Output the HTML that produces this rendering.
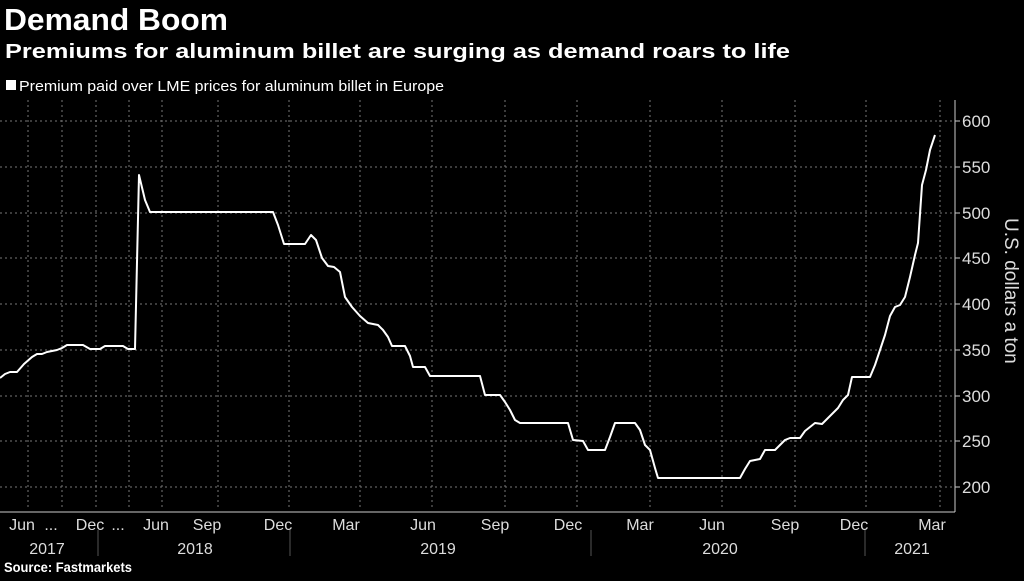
<!DOCTYPE html>
<html><head><meta charset="utf-8"><style>
body{margin:0;background:#000;width:1024px;height:576px;overflow:hidden;font-family:"Liberation Sans",sans-serif;color:#fff}
</style></head><body>
<svg width="1024" height="576" xmlns="http://www.w3.org/2000/svg" font-family="Liberation Sans, sans-serif">
<rect width="1024" height="576" fill="#000"/>
<text x="4" y="30" font-size="31" font-weight="bold" fill="#fff" textLength="224" lengthAdjust="spacingAndGlyphs">Demand Boom</text>
<text x="5" y="58" font-size="20" font-weight="bold" fill="#fff" textLength="785" lengthAdjust="spacingAndGlyphs">Premiums for aluminum billet are surging as demand roars to life</text>
<rect x="6" y="80" width="10" height="10" fill="#fff"/>
<text x="19" y="91" font-size="15" fill="#fff" textLength="425" lengthAdjust="spacingAndGlyphs">Premium paid over LME prices for aluminum billet in Europe</text>
<g stroke="#777" stroke-width="1" stroke-dasharray="2,3">
<line x1="0" y1="121" x2="955" y2="121"/><line x1="0" y1="167" x2="955" y2="167"/><line x1="0" y1="213" x2="955" y2="213"/><line x1="0" y1="258" x2="955" y2="258"/><line x1="0" y1="304" x2="955" y2="304"/><line x1="0" y1="350" x2="955" y2="350"/><line x1="0" y1="396" x2="955" y2="396"/><line x1="0" y1="441" x2="955" y2="441"/><line x1="0" y1="487" x2="955" y2="487"/>
<line x1="28" y1="100" x2="28" y2="510"/><line x1="62" y1="100" x2="62" y2="510"/><line x1="96" y1="100" x2="96" y2="510"/><line x1="129" y1="100" x2="129" y2="510"/><line x1="162" y1="100" x2="162" y2="510"/><line x1="218" y1="100" x2="218" y2="510"/><line x1="289" y1="100" x2="289" y2="510"/><line x1="360" y1="100" x2="360" y2="510"/><line x1="432" y1="100" x2="432" y2="510"/><line x1="505" y1="100" x2="505" y2="510"/><line x1="577" y1="100" x2="577" y2="510"/><line x1="650" y1="100" x2="650" y2="510"/><line x1="722" y1="100" x2="722" y2="510"/><line x1="795" y1="100" x2="795" y2="510"/><line x1="866" y1="100" x2="866" y2="510"/><line x1="940" y1="100" x2="940" y2="510"/>
</g>
<g stroke="#ccc" stroke-width="1">
<line x1="0" y1="512" x2="955" y2="512"/><line x1="955" y1="100" x2="955" y2="512"/>
<line x1="955" y1="121" x2="960" y2="121"/><line x1="955" y1="167" x2="960" y2="167"/><line x1="955" y1="213" x2="960" y2="213"/><line x1="955" y1="258" x2="960" y2="258"/><line x1="955" y1="304" x2="960" y2="304"/><line x1="955" y1="350" x2="960" y2="350"/><line x1="955" y1="396" x2="960" y2="396"/><line x1="955" y1="441" x2="960" y2="441"/><line x1="955" y1="487" x2="960" y2="487"/>
<line x1="98" y1="530" x2="98" y2="556" stroke="#555"/><line x1="290" y1="530" x2="290" y2="556" stroke="#555"/><line x1="591" y1="530" x2="591" y2="556" stroke="#555"/><line x1="865" y1="530" x2="865" y2="556" stroke="#555"/>
</g>
<polyline fill="none" stroke="#fff" stroke-width="2" stroke-linejoin="round" points="0,378 5,374 10,372 17,372 24,364 32,357 37,354 42,354 47,352 52,351 57,350 62,348 67,345 83,345 90,349 100,349 105,346 123,346 128,349 135,349 139,175 145,200 150,212 273,212 278,225 284,244 305,244 311,235 316,240 322,258 328,266 334,267 340,272 345,297 352,307 360,316 368,323 378,325 383,330 388,337 392,346 405,346 410,356 413,367 425,367 430,376 480,376 485,395 500,395 505,402 510,410 515,420 520,423 568,423 573,440 583,441 588,450 605,450 610,437 615,423 635,423 640,430 645,445 650,450 655,468 658,478 740,478 745,469 750,461 760,459 765,450 775,450 780,445 785,440 790,438 800,438 805,431 815,423 822,424 828,418 833,413 838,408 843,400 848,395 852,377 870,377 875,365 880,350 885,335 890,316 895,307 900,305 905,297 910,277 915,255 918,243 922,185 926,170 930,150 935,135"/>
<g font-size="17" fill="#ddd">
<text x="962" y="127">600</text><text x="962" y="173">550</text><text x="962" y="219">500</text><text x="962" y="264">450</text><text x="962" y="310">400</text><text x="962" y="356">350</text><text x="962" y="402">300</text><text x="962" y="447">250</text><text x="962" y="493">200</text>
</g>
<text transform="translate(1005,218) rotate(90)" font-size="19" fill="#ddd">U.S. dollars a ton</text>
<g font-size="16" fill="#ddd" text-anchor="middle">
<text x="22" y="530">Jun</text><text x="51" y="530">...</text><text x="90" y="530">Dec</text><text x="118" y="530">...</text><text x="156" y="530">Jun</text><text x="207" y="530">Sep</text><text x="278" y="530">Dec</text><text x="346" y="530">Mar</text><text x="423" y="530">Jun</text><text x="495" y="530">Sep</text><text x="568" y="530">Dec</text><text x="640" y="530">Mar</text><text x="712" y="530">Jun</text><text x="785" y="530">Sep</text><text x="854" y="530">Dec</text><text x="932" y="530">Mar</text>
<text x="47" y="554">2017</text><text x="195" y="554">2018</text><text x="438" y="554">2019</text><text x="720" y="554">2020</text><text x="912" y="554">2021</text>
</g>
<text x="4" y="572" font-size="14" font-weight="bold" fill="#fff" textLength="128" lengthAdjust="spacingAndGlyphs">Source: Fastmarkets</text>
</svg>
</body></html>
